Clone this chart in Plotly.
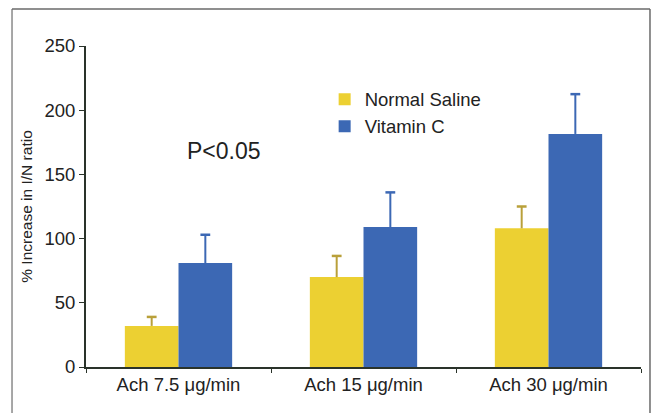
import plotly.graph_objects as go

categories = ["Ach 7.5 μg/min", "Ach 15 μg/min", "Ach 30 μg/min"]
saline_values = [32, 70, 108]
saline_err = [7, 16.5, 17]
vitc_values = [81, 109, 181.5]
vitc_err = [22, 27, 31]
y_ticks = [0, 50, 100, 150, 200, 250]

YELLOW = "#ECD032"
BLUE = "#3C68B4"
YELLOW_ERR = "#B9A03A"
FONT = "Liberation Sans, Arial, sans-serif"

fig = go.Figure()
series = [
    ("Normal Saline", saline_values, saline_err, YELLOW, YELLOW_ERR, "ns"),
    ("Vitamin C", vitc_values, vitc_err, BLUE, BLUE, "vc"),
]
for name, vals, errs, col, ecol, grp in series:
    fig.add_trace(go.Bar(
        name=name, x=categories, y=vals, offsetgroup=grp,
        marker=dict(color=col, line=dict(width=0)),
        error_y=dict(type="data", array=errs, symmetric=False,
                     arrayminus=[0] * len(errs), color=ecol, thickness=2, width=0),
    ))
for name, vals, errs, col, ecol, grp in series:
    tops = [v + e for v, e in zip(vals, errs)]
    fig.add_trace(go.Scatter(
        x=categories, y=tops, mode="markers", offsetgroup=grp,
        showlegend=False, hoverinfo="skip",
        marker=dict(symbol="line-ew", size=7, color=ecol,
                    line=dict(width=2.5, color=ecol)),
    ))

fig.update_layout(
    width=657, height=413,
    margin=dict(l=86, r=16, t=46, b=46),
    paper_bgcolor="white", plot_bgcolor="white",
    barmode="group", bargap=0.42, bargroupgap=0,
    scattermode="group", scattergap=0.42,
    font=dict(family=FONT, color="#222"),
    showlegend=True,
    legend=dict(x=0.43, y=0.892, xanchor="left", yanchor="top",
                font=dict(size=18.5, family=FONT, color="#222"),
                bgcolor="rgba(0,0,0,0)", tracegroupgap=0),
    xaxis=dict(
        type="category", showline=True, linecolor="#2a332a", linewidth=2,
        ticks="outside", tickson="boundaries", ticklen=4, tickcolor="#2a332a",
        tickfont=dict(size=18.5, family=FONT, color="#222"),
        showgrid=False, zeroline=False,
    ),
    yaxis=dict(
        range=[0, 250], tickvals=y_ticks, showline=True, linecolor="#2a332a",
        linewidth=2, ticks="outside", ticklen=5, tickcolor="#2a332a",
        tickfont=dict(size=18.5, family=FONT, color="#222"),
        showgrid=False, zeroline=False,
        title=dict(text="% Increase in I/N ratio", standoff=8,
                   font=dict(size=15.5, family=FONT, color="#222")),
    ),
    annotations=[
        dict(text="P<0.05", x=0.249, y=0.673, xref="paper", yref="paper",
             xanchor="center", yanchor="middle",
             showarrow=False, font=dict(size=23, family=FONT, color="#222")),
    ],
    shapes=[
        dict(type="line", xref="paper", yref="paper", x0=-0.1333, x1=-0.1333,
             y0=1.115, y1=-0.3, line=dict(color="#8a8a8a", width=1.5)),
        dict(type="line", xref="paper", yref="paper", x0=-0.1333, x1=1.0162,
             y0=1.115, y1=1.115, line=dict(color="#6a6a6a", width=1.5)),
        dict(type="line", xref="paper", yref="paper", x0=1.0162, x1=1.0162,
             y0=1.115, y1=-0.3, line=dict(color="#6a6a6a", width=1.5)),
    ],
)

fig.write_html("out.html")
